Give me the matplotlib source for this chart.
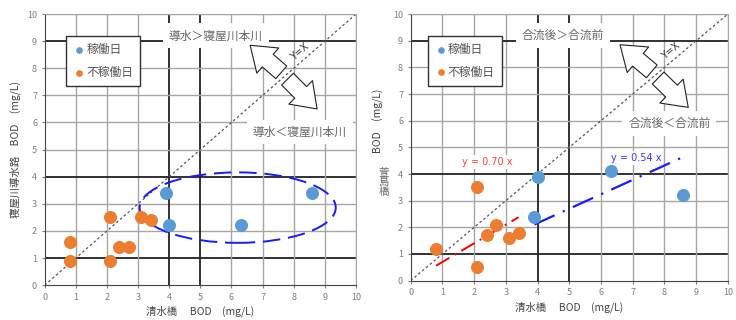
import matplotlib
matplotlib.use('Agg')
import matplotlib.pyplot as plt
from matplotlib.patches import Ellipse
import numpy as np

plt.rcParams['font.family'] = ['Noto Sans CJK JP', 'DejaVu Sans']

# left panel data (清水橋 vs 寝屋川導水路)
left_work_x = [3.9, 4.0, 6.3, 8.6]
left_work_y = [3.4, 2.2, 2.2, 3.4]
left_off_x = [0.8, 0.8, 2.1, 2.1, 2.4, 2.7, 3.1, 3.4]
left_off_y = [1.6, 0.9, 2.5, 0.9, 1.4, 1.4, 2.5, 2.4]

# right panel data (清水橋 vs 萱島橋)
right_work_x = [4.0, 3.9, 6.3, 8.6]
right_work_y = [3.9, 2.4, 4.1, 3.2]
right_off_x = [0.8, 2.1, 2.1, 2.4, 2.7, 3.1, 3.4]
right_off_y = [1.2, 3.5, 0.5, 1.7, 2.1, 1.6, 1.8]

slope_off = 0.70
slope_work = 0.54

ticks = list(range(0, 11))
thick_x = [4, 5]
thick_y = [1, 4, 9]

BLUE = '#5B9BD5'
ORANGE = '#ED7D31'
GRAY = '#7f7f7f'


def grid_base(ax):
	ax.set_xlim(0, 10)
	ax.set_ylim(0, 10)
	ax.set_xticks(ticks)
	ax.set_yticks(ticks)
	ax.tick_params(labelsize=6.5, colors=GRAY, length=2)
	for v in ticks[1:]:
		c, lw = ('#222222', 1.3) if v in thick_x else ('#a6a6a6', 1.0)
		ax.axvline(v, color=c, lw=lw, zorder=0)
		c, lw = ('#222222', 1.3) if v in thick_y else ('#a6a6a6', 1.0)
		ax.axhline(v, color=c, lw=lw, zorder=0)
	for s in ax.spines.values():
		s.set_color('#a6a6a6')
	ax.spines['left'].set_color('#444444')
	ax.spines['bottom'].set_color('#444444')
	ax.plot([0, 10], [0, 10], color='#555555', ls=(0, (2, 2)), lw=0.9, zorder=1)
	ax.text(8.2, 8.6, 'Y=X', rotation=41, fontsize=7, color='#333333',
		ha='center', va='center', family=['DejaVu Sans'])
	ax.set_xlabel('清水橋　 BOD　(mg/L)', fontsize=7.5, color='#444444', labelpad=3)


def arrows(ax, up, down):
	style = 'simple,head_width=1.0,head_length=0.7,tail_width=0.5'
	for seg in (up, down):
		ax.annotate('', xy=seg[1], xytext=seg[0],
			arrowprops=dict(arrowstyle=style, mutation_scale=24, shrinkA=0, shrinkB=0,
				fc='white', ec='#222222', lw=0.8), zorder=4)


def label_box(ax, x, y, s):
	ax.text(x, y, s, fontsize=8.5, color='#666666', ha='center', va='center', zorder=3,
		bbox=dict(boxstyle='square,pad=0.5', fc='white', ec='none'))


fig = plt.figure(figsize=(7.36, 3.2), dpi=100)
ax1 = fig.add_axes([0.0607, 0.109, 0.423, 0.847])
ax2 = fig.add_axes([0.558, 0.123, 0.431, 0.833])

# left
grid_base(ax1)
ax1.scatter(left_work_x, left_work_y, s=70, color=BLUE, zorder=5, label='稼働日')
ax1.scatter(left_off_x, left_off_y, s=70, color=ORANGE, zorder=5, label='不稼働日')
ax1.add_patch(Ellipse((6.2, 2.86), 6.3, 2.6, fill=False, ec='#1a1aff', lw=1.4,
	ls=(0, (9, 4)), zorder=4))
label_box(ax1, 5.5, 9.2, '導水＞寝屋川本川')
label_box(ax1, 8.2, 5.65, '導水＜寝屋川本川')
arrows(ax1, [(7.6, 7.85), (6.6, 8.85)], [(7.8, 7.6), (8.75, 6.5)])
ax1.set_ylabel('寝屋川導水路　BOD　(mg/L)', fontsize=7.5, color='#444444', labelpad=4)
leg = ax1.legend(loc='upper left', bbox_to_anchor=(0.05, 0.94), fontsize=8.5,
	handletextpad=0.1, markerscale=0.45, fancybox=False, edgecolor='#333333',
	framealpha=1, borderpad=0.6, labelspacing=0.8, handlelength=1.0)
leg.set_zorder(6)
for t in leg.get_texts():
	t.set_color('#555555')

# right
grid_base(ax2)
ax2.scatter(right_work_x, right_work_y, s=70, color=BLUE, zorder=5, label='稼働日')
ax2.scatter(right_off_x, right_off_y, s=70, color=ORANGE, zorder=5, label='不稼働日')
xo = np.array([min(right_off_x), max(right_off_x)])
xw = np.array([min(right_work_x), max(right_work_x)])
ax2.plot(xo, slope_off * xo, color='red', lw=1.4, ls=(0, (8, 3, 1, 3)), zorder=4)
ax2.plot(xw, slope_work * xw, color='#1a1aff', lw=1.6, ls=(0, (10, 4, 1, 4)), zorder=4)
ax2.text(2.4, 4.45, 'y = %.2f x' % slope_off, color='#ff4040', fontsize=7, ha='center', va='center',
	family=['DejaVu Sans'], zorder=3, bbox=dict(boxstyle='square,pad=0.2', fc='white', ec='none'))
ax2.text(7.1, 4.6, 'y = %.2f x' % slope_work, color='#3333ff', fontsize=7, ha='center', va='center',
	family=['DejaVu Sans'], zorder=3, bbox=dict(boxstyle='square,pad=0.2', fc='white', ec='none'))
label_box(ax2, 4.8, 9.2, '合流後＞合流前')
label_box(ax2, 8.15, 5.9, '合流後＜合流前')
arrows(ax2, [(7.6, 7.85), (6.6, 8.85)], [(7.8, 7.6), (8.75, 6.5)])
ax2.set_ylabel('BOD　(mg/L)', fontsize=7.5, color='#444444', labelpad=4)
ax2.yaxis.set_label_coords(-0.085, 0.6)
ax2.text(-0.085, 0.37, '萱\n島\n橋', transform=ax2.transAxes, fontsize=7.5, color='#666666',
	ha='center', va='center', linespacing=1.0)
leg2 = ax2.legend(loc='upper left', bbox_to_anchor=(0.035, 0.94), fontsize=8.5,
	handletextpad=0.1, markerscale=0.45, fancybox=False, edgecolor='#333333',
	framealpha=1, borderpad=0.6, labelspacing=0.8, handlelength=1.0)
leg2.set_zorder(6)
for t in leg2.get_texts():
	t.set_color('#555555')

fig.savefig('out.png', dpi=100)
